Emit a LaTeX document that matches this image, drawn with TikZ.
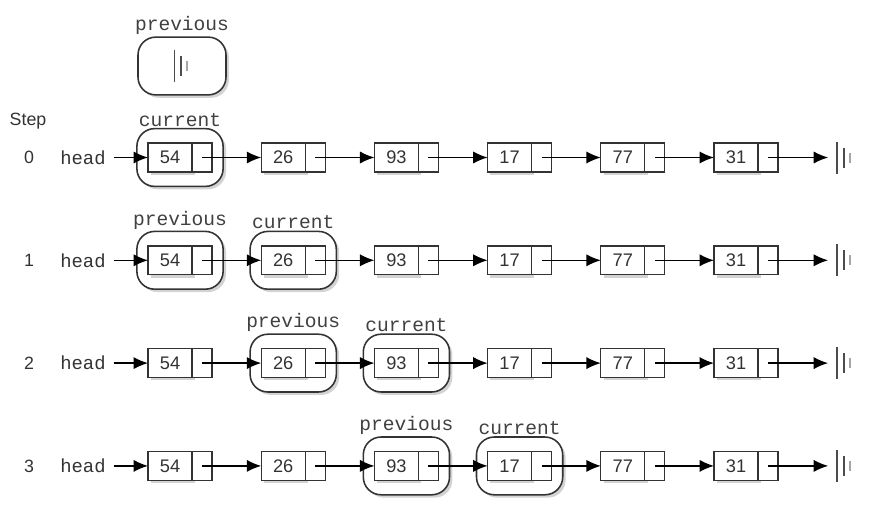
\documentclass[tikz,border=0pt]{standalone}
\usepackage{fontspec}
\setmainfont{Liberation Sans}
\setsansfont{Liberation Sans}
\setmonofont{Liberation Mono}
\usetikzlibrary{positioning,fit,shadows,backgrounds,arrows.meta}

\begin{document}
\begin{tikzpicture}[
  x=0.45pt, y=-0.45pt,
  cellshadow/.style={drop shadow={shadow xshift=1.3pt, shadow yshift=-1.3pt, opacity=0.35}},
  datacell/.style={draw=black!80, fill=white, line width=0.6pt, anchor=west,
    minimum width=19.8pt, minimum height=13pt, inner sep=0pt, outer sep=0pt,
    font=\fontsize{8.2}{10}\sffamily, text=black!80, cellshadow},
  ptrcell/.style={draw=black!80, fill=white, line width=0.6pt, anchor=west,
    minimum width=9pt, minimum height=13pt, inner sep=0pt, outer sep=0pt},
  refbox/.style={draw=black!80, fill=white, line width=0.7pt, rounded corners=8pt,
    inner xsep=5pt, inner ysep=6.5pt, cellshadow},
  link/.style={-{Latex[length=6.5pt,width=5.5pt]}, line width=0.6pt},
  lbl/.style={font=\fontsize{8.8}{10}\ttfamily, text=black!75, inner sep=0.5pt},
  headlbl/.style={font=\fontsize{8.5}{10}\ttfamily, text=black!80},
  steplbl/.style={font=\fontsize{8}{10}\sffamily, text=black!80},
  nilbar/.style={line width=0.6pt, black!70},
]

\useasboundingbox (0,0) rectangle (883,528);

% Grid spacing
\def\colgap{113.2}   % distance between list nodes
\def\rowgap{102.8}   % distance between steps

\node[steplbl] (steptitle) at (28,121) {Step};

% ============================================================
% LIST ROWS (one per step)
% ============================================================
\foreach \r in {0,...,3}{
  \pgfmathsetmacro{\y}{157.5+\r*\rowgap}
  \node[steplbl] (step\r) at (29,\y) {\r};
  \node[headlbl] (head\r) at (83,\y) {head};
  \foreach \v [count=\c] in {54,26,93,17,77,31}{
    \pgfmathsetmacro{\x}{148+(\c-1)*\colgap}
    \node[datacell] (d\r\c) at (\x,\y) {\v};
    \node[ptrcell] (p\r\c) at (d\r\c.east) {};
  }
  \coordinate (nil\r) at (837,\y);
  \draw[link] (head\r.east) -- (d\r1.west);
  \foreach \c in {1,...,5}{
    \pgfmathtruncatemacro{\n}{\c+1}
    \draw[link] (p\r\c.center) -- (d\r\n.west);
  }
  \draw[link, shorten >=4pt] (p\r6.center) -- (nil\r);
  % end of list marker
  \draw[nilbar] ([yshift=-7.2pt]nil\r) -- ([yshift=7.2pt]nil\r);
  \draw[nilbar, line width=1pt] ([shift={(7,-10)}]nil\r) -- ([shift={(7,10)}]nil\r);
  \draw[nilbar, black!35, line width=1pt] ([shift={(13,-5)}]nil\r) -- ([shift={(13,5)}]nil\r);
}

% ============================================================
% PREVIOUS / CURRENT REFERENCES
% ============================================================
\begin{scope}[on background layer]
  % step 0
  \node[refbox, minimum width=39.6pt, minimum height=26pt] (prev0) at (182,66) {};
  \node[refbox, fit=(d01)(p01)] (cur0) {};
  % step 1
  \node[refbox, fit=(d11)(p11)] (prev1) {};
  \node[refbox, fit=(d12)(p12)] (cur1) {};
  % step 2
  \node[refbox, fit=(d22)(p22)] (prev2) {};
  \node[refbox, fit=(d23)(p23)] (cur2) {};
  % step 3
  \node[refbox, fit=(d33)(p33)] (prev3) {};
  \node[refbox, fit=(d34)(p34)] (cur3) {};
\end{scope}

\foreach \r in {0,...,3}{
  \node[lbl, above=0pt of prev\r] (prevlbl\r) {previous};
  \node[lbl, above=0pt of cur\r] (curlbl\r) {current};
}

% previous starts as None
\coordinate (nilprev) at ([xshift=-3.5pt]prev0.center);
\draw[nilbar] ([yshift=-7.2pt]nilprev) -- ([yshift=7.2pt]nilprev);
\draw[nilbar, line width=1pt] ([shift={(7,-10)}]nilprev) -- ([shift={(7,10)}]nilprev);
\draw[nilbar, black!35, line width=1pt] ([shift={(13,-5)}]nilprev) -- ([shift={(13,5)}]nilprev);

\end{tikzpicture}
\end{document}
